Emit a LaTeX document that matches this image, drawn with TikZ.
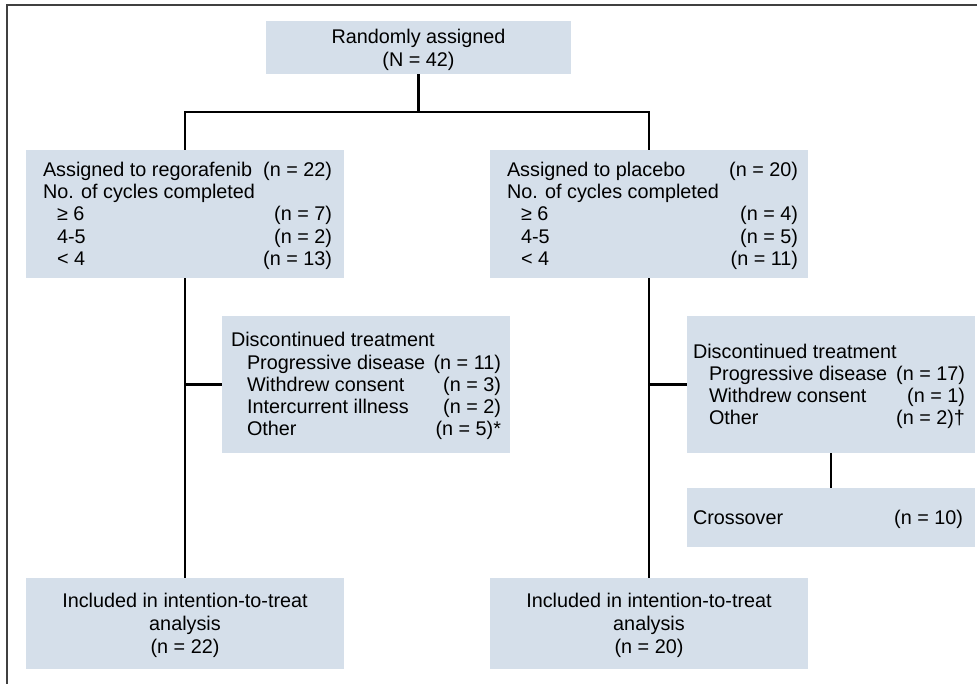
\documentclass[tikz,border=0pt]{standalone}
\usepackage{fontspec}
\setmainfont{Liberation Sans}
\definecolor{boxfill}{RGB}{213,223,234}
% one line of a box: left text, right text, set to a fixed width
\newcommand{\pairrow}[3]{\makebox[#1][l]{#2\hfill#3}}
% box text, set a little lower than centre
\newcommand{\boxtext}[1]{\raisebox{-2.5pt}[\height][\depth]{#1}}
\begin{document}
\begin{tikzpicture}[x=1pt,y=-1pt,
  box/.style={fill=boxfill,inner sep=0pt,font=\fontsize{19.8}{22.25}\selectfont},
  tallbox/.style={box,font=\fontsize{19.8}{23}\selectfont},
  link/.style={line width=2.3pt}]
  \useasboundingbox (0,0) rectangle (977,684);
  % frame
  \draw[line width=1.5pt,black!75] (977,5) -- (7,5) -- (7,684);
  % boxes
  \node[tallbox,minimum width=305pt,minimum height=53pt] (rand) at (418.5,47.5)
    {\boxtext{\begin{tabular}{@{}c@{}}Randomly assigned\\(N = 42)\end{tabular}}};
  \node[box,minimum width=318pt,minimum height=128pt] (regb) at (185,214)
    {\boxtext{\begin{tabular}{@{}l@{}}
      \pairrow{294pt}{\hspace*{5pt}Assigned to regorafenib}{(n = 22)}\\
      \pairrow{294pt}{\hspace*{5pt}No. of cycles completed}{}\\
      \pairrow{294pt}{\hspace*{19pt}≥ 6}{(n = 7)}\\
      \pairrow{294pt}{\hspace*{19pt}4-5}{(n = 2)}\\
      \pairrow{294pt}{\hspace*{19pt}< 4}{(n = 13)}
    \end{tabular}}};
  \node[box,minimum width=318pt,minimum height=128pt] (plcb) at (649,214)
    {\boxtext{\begin{tabular}{@{}l@{}}
      \pairrow{298pt}{\hspace*{7pt}Assigned to placebo}{(n = 20)}\\
      \pairrow{298pt}{\hspace*{7pt}No. of cycles completed}{}\\
      \pairrow{298pt}{\hspace*{21pt}≥ 6}{(n = 4)}\\
      \pairrow{298pt}{\hspace*{21pt}4-5}{(n = 5)}\\
      \pairrow{298pt}{\hspace*{21pt}< 4}{(n = 11)}
    \end{tabular}}};
  \node[box,minimum width=288pt,minimum height=137pt] (regdisc) at (366,384.5)
    {\boxtext{\begin{tabular}{@{}l@{}}
      \pairrow{270pt}{Discontinued treatment}{}\\
      \pairrow{270pt}{\hspace*{16pt}Progressive disease}{(n = 11)}\\
      \pairrow{270pt}{\hspace*{16pt}Withdrew consent}{(n = 3)}\\
      \pairrow{270pt}{\hspace*{16pt}Intercurrent illness}{(n = 2)}\\
      \pairrow{270pt}{\hspace*{16pt}Other}{(n = 5)*}
    \end{tabular}}};
  \node[box,minimum width=288pt,minimum height=137pt] (plcdisc) at (831,384.5)
    {\boxtext{\begin{tabular}{@{}l@{}}
      \pairrow{276pt}{Discontinued treatment}{}\\
      \pairrow{276pt}{\hspace*{16pt}Progressive disease}{(n = 17)\hspace*{4pt}}\\
      \pairrow{276pt}{\hspace*{16pt}Withdrew consent}{(n = 1)\hspace*{4pt}}\\
      \pairrow{276pt}{\hspace*{16pt}Other}{(n = 2)†\hspace*{4pt}}
    \end{tabular}}};
  \node[box,minimum width=288pt,minimum height=59pt] (cross) at (831,517.5)
    {\boxtext{\begin{tabular}{@{}l@{}}
      \pairrow{276pt}{Crossover}{(n = 10)\hspace*{6pt}}
    \end{tabular}}};
  \node[tallbox,minimum width=318pt,minimum height=91pt] (regitt) at (185,623.5)
    {\boxtext{\begin{tabular}{@{}c@{}}Included in intention-to-treat\\analysis\\(n = 22)\end{tabular}}};
  \node[tallbox,minimum width=318pt,minimum height=91pt] (plcitt) at (649,623.5)
    {\boxtext{\begin{tabular}{@{}c@{}}Included in intention-to-treat\\analysis\\(n = 20)\end{tabular}}};
  % connectors
  \coordinate (split) at (418.5,112);
  \draw[link] (rand.south) -- (split);
  \draw[link] (regb.north) |- (split) -| (plcb.north);
  \draw[link] (regb.south) -- (regitt.north);
  \draw[link] (plcb.south) -- (plcitt.north);
  \draw[link] (regdisc.west) -- (regdisc.west -| regb.south);
  \draw[link] (plcdisc.west) -- (plcdisc.west -| plcb.south);
  \draw[link] (plcdisc.south) -- (cross.north);
\end{tikzpicture}
\end{document}
